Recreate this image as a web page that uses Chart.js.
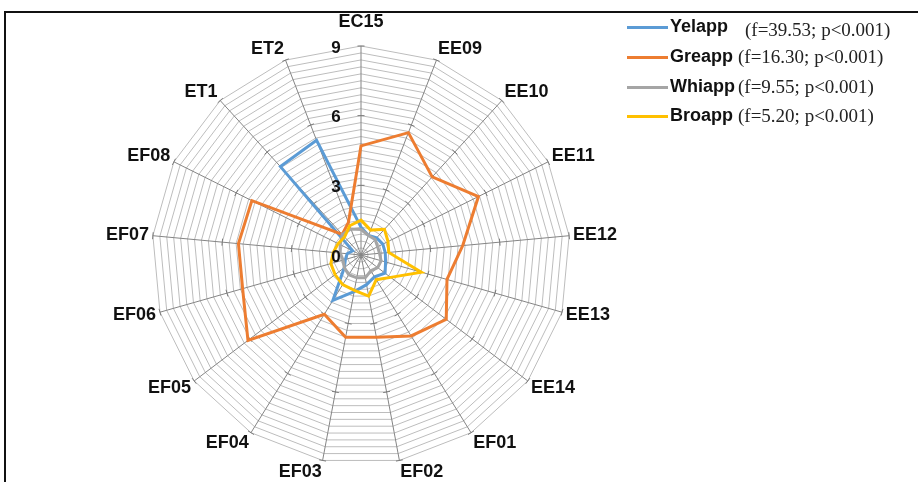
<!DOCTYPE html>
<html>
<head>
<meta charset="utf-8">
<script src="https://cdn.jsdelivr.net/npm/chart.js@4.4.1/dist/chart.umd.min.js"></script>
<style>
  html, body { margin: 0; padding: 0; background: #fff; width: 918px; height: 482px; overflow: hidden; }
  #frame { position: absolute; left: 4px; top: 11px; width: 940px; height: 490px;
           border-top: 2px solid #111; border-left: 2px solid #111; }
  #wrap { position: absolute; left: 0; top: 0; width: 722px; height: 482px; }
  #legend { position: absolute; left: 627px; top: 0; width: 290px; height: 140px; }
  .row { position: absolute; left: 0; height: 25px; white-space: nowrap; }
  .swatch { position: absolute; left: 0; top: 11px; width: 41px; height: 3px; }
  .name { position: absolute; left: 43px; top: 1px; font: bold 18px "Liberation Sans", Arial, sans-serif; color: #111; }
  .stat { position: absolute; left: 111px; top: 1px; font: 19px "Liberation Serif", "Times New Roman", serif; color: #222; }
</style>
</head>
<body>
<div id="frame"></div>
<div id="wrap"><canvas id="c" width="722" height="482"></canvas></div>
<div id="legend"></div>
<script>
// Axis categories, clockwise from the top
const categories = ['EC15', 'EE09', 'EE10', 'EE11', 'EE12', 'EE13', 'EE14', 'EF01', 'EF02',
                    'EF03', 'EF04', 'EF05', 'EF06', 'EF07', 'EF08', 'ET1', 'ET2'];

// Mean scores per series
const yelapp = [1.2, 0.9, 1.0, 1.05, 1.05, 1.1, 1.3, 1.1, 1.3, 1.6, 2.3, 0.9, 0.7, 0.6, 0.4, 5.15, 5.3];
const greapp = [4.7, 5.65, 4.55, 5.65, 4.4, 3.85, 4.6, 4.1, 3.6, 3.6, 3.0, 6.1, 5.3, 5.3, 5.25, 1.2, 1.5];
const whiapp = [1.1, 0.9, 0.9, 0.8, 0.8, 0.9, 0.9, 0.8, 1.0, 1.0, 1.0, 0.9, 0.8, 0.9, 1.0, 1.2, 1.2];
const broapp = [1.5, 1.15, 1.5, 1.3, 1.2, 2.7, 1.6, 1.25, 1.8, 1.55, 1.5, 1.4, 1.35, 1.2, 1.1, 1.05, 1.35];

const seriesNames = ['Yelapp', 'Greapp', 'Whiapp', 'Broapp'];
const seriesStats = ['(f=39.53; p<0.001)', '(f=16.30; p<0.001)', '(f=9.55; p<0.001)', '(f=5.20; p<0.001)'];
const seriesColors = ['#5b9bd5', '#ed7d31', '#a5a5a5', '#ffc000'];

// Radial axis
const axisMin = 0, axisMax = 9, gridStep = 0.3;
const tickLabels = [0, 3, 6, 9];

const seriesValues = [yelapp, greapp, whiapp, broapp];

// Legend built as plain HTML next to the chart
const legend = document.getElementById('legend');
const rowTops = [15, 45, 75, 104];
seriesNames.forEach((name, i) => {
  const row = document.createElement('div');
  row.className = 'row';
  row.style.top = rowTops[i] + 'px';
  row.innerHTML = '<div class="swatch" style="background:' + seriesColors[i] + '"></div>' +
                  '<div class="name">' + name + '</div>' +
                  '<div class="stat"' + (i === 0 ? ' style="left:118px;top:4px"' : '') + '></div>';
  row.querySelector('.stat').textContent = seriesStats[i];
  legend.appendChild(row);
});

const labelFont = 'bold 18px "Liberation Sans", Arial, sans-serif';
const labelHeight = 16;

// Spoke tick marks, category labels round the rim and scale numbers beside the top spoke
const axisMarks = {
  id: 'axisMarks',
  beforeDatasetsDraw(chart) {
    const s = chart.scales.r, ctx = chart.ctx;
    ctx.save();
    ctx.strokeStyle = '#7a7a7a';
    ctx.lineWidth = 1;
    for (let i = 0; i < categories.length; i++) {
      const a = s.getIndexAngle(i) - Math.PI / 2;
      const nx = -Math.sin(a), ny = Math.cos(a);
      tickLabels.forEach(v => {
        if (v === axisMin) return;
        const p = s.getPointPositionForValue(i, v);
        ctx.beginPath();
        ctx.moveTo(p.x - nx * 3.5, p.y - ny * 3.5);
        ctx.lineTo(p.x + nx * 3.5, p.y + ny * 3.5);
        ctx.stroke();
      });
    }
    // category labels
    ctx.fillStyle = '#111';
    ctx.font = labelFont;
    ctx.textBaseline = 'middle';
    for (let i = 0; i < categories.length; i++) {
      const th = s.getIndexAngle(i);
      const sn = Math.sin(th), cs = Math.cos(th);
      const p = s.getPointPosition(i, s.drawingArea + 4);
      ctx.textAlign = sn > 0.05 ? 'left' : (sn < -0.05 ? 'right' : 'center');
      // the top label clears the scale number "9"
      const lift = cs > 0.99 ? 12 : 0;
      ctx.fillText(categories[i], p.x, p.y - cs * labelHeight / 2 - lift);
    }
    ctx.restore();
  },
  afterDatasetsDraw(chart) {
    const s = chart.scales.r, ctx = chart.ctx;
    ctx.save();
    ctx.fillStyle = '#111';
    ctx.font = 'bold 17px "Liberation Sans", Arial, sans-serif';
    ctx.textAlign = 'center';
    ctx.textBaseline = 'middle';
    tickLabels.forEach(v => {
      const d = s.getDistanceFromCenterForValue(v);
      ctx.fillText(String(v), s.xCenter - 25, s.yCenter - d + 2);
    });
    ctx.restore();
  }
};

new Chart(document.getElementById('c'), {
  type: 'radar',
  data: {
    labels: categories,
    datasets: seriesNames.map((name, i) => ({
      label: name,
      data: seriesValues[i],
      borderColor: seriesColors[i],
      backgroundColor: 'transparent',
      borderWidth: 3,
      pointRadius: 0,
      fill: false,
      tension: 0,
      order: seriesNames.length - 1 - i
    }))
  },
  options: {
    responsive: false,
    animation: false,
    devicePixelRatio: 1,
    layout: { padding: { top: 46, bottom: 18, left: 0, right: 0 } },
    plugins: { legend: { display: false }, tooltip: { enabled: false } },
    scales: {
      r: {
        min: axisMin,
        max: axisMax,
        startAngle: 0,
        ticks: { stepSize: gridStep, display: false },
        grid: { color: '#bdbdbd', lineWidth: 1 },
        angleLines: { color: '#858585', lineWidth: 1 },
        pointLabels: { display: false }
      }
    }
  },
  plugins: [axisMarks]
});
</script>
</body>
</html>
